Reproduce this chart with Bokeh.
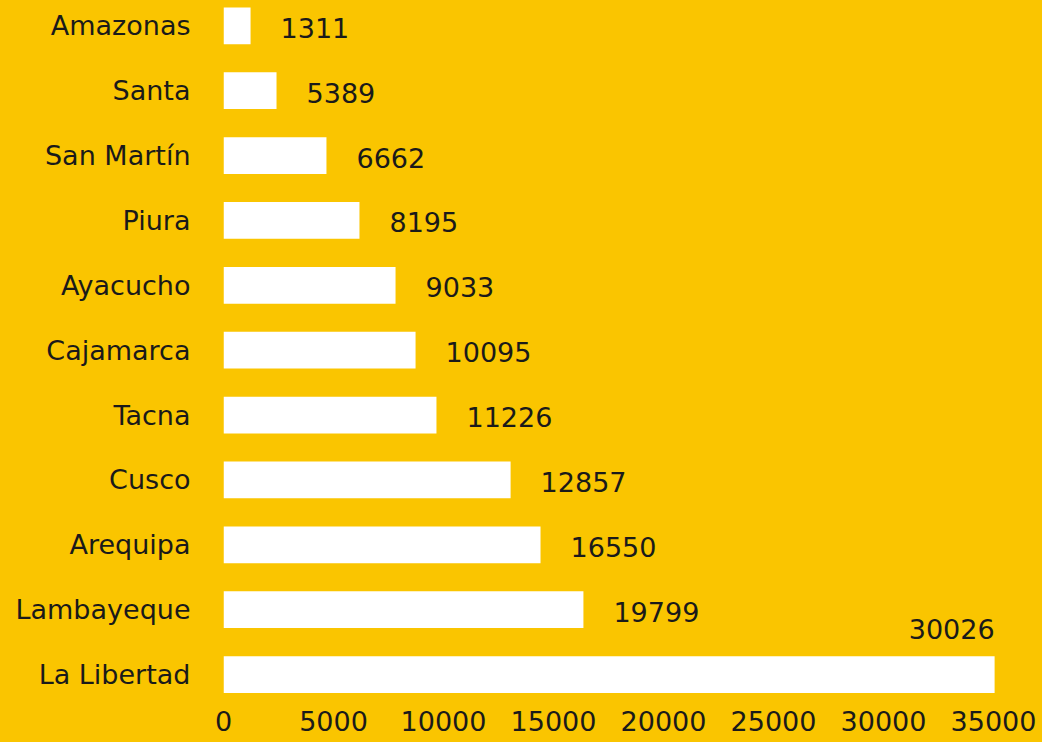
from bokeh.plotting import figure
from bokeh.models import Range1d, FixedTicker, ColumnDataSource, NumeralTickFormatter
from bokeh.core.properties import value
from bokeh.embed import file_html
from bokeh.resources import INLINE

# Data (top to bottom as shown)
regions = ["Amazonas", "Santa", "San Martín", "Piura", "Ayacucho", "Cajamarca",
           "Tacna", "Cusco", "Arequipa", "Lambayeque", "La Libertad"]
# bar lengths as drawn against the axis
bar_lengths = [1230, 2410, 4680, 6180, 7820, 8730, 9680, 13050, 14410, 16360, 35050]
# printed value labels
value_labels = ["1311", "5389", "6662", "8195", "9033", "10095", "11226",
                "12857", "16550", "19799", "30026"]
x_ticks = [0, 5000, 10000, 15000, 20000, 25000, 30000, 35000]

BG = "#FAC500"
INK = "#1A1A1A"
FONT = "DejaVu Sans"
FS = "27px"

n = len(regions)
ypos = [n - 1 - i for i in range(n)]  # Amazonas on top

p = figure(width=1042, height=742, output_backend="svg", toolbar_location=None,
           x_range=Range1d(0, 37227), y_range=Range1d(-0.40, 10.39),
           min_border_left=223, min_border_right=0, min_border_top=0,
           min_border_bottom=42)
p.background_fill_color = BG
p.border_fill_color = BG
p.outline_line_color = None
p.grid.visible = False

src = ColumnDataSource(dict(y=ypos, right=bar_lengths, lab=value_labels, reg=regions))
p.hbar(y="y", left=0, right="right", height=0.565, source=src,
       fill_color="white", line_color=None)

# value labels: all but the longest bar to the right of the bar end
imax = max(range(n), key=lambda i: bar_lengths[i])
others = [i for i in range(n) if i != imax]
src_a = ColumnDataSource(dict(x=[bar_lengths[i] for i in others],
                              y=[ypos[i] for i in others],
                              t=[value_labels[i] for i in others]))
p.text(x="x", y="y", text="t", source=src_a, x_offset=30, y_offset=2,
       text_align="left", text_baseline="middle", text_font=value(FONT),
       text_font_size=FS, text_color=INK)
src_b = ColumnDataSource(dict(x=[bar_lengths[imax]], y=[ypos[imax]],
                              t=[value_labels[imax]]))
p.text(x="x", y="y", text="t", source=src_b, x_offset=0, y_offset=-46,
       text_align="right", text_baseline="middle", text_font=value(FONT),
       text_font_size=FS, text_color=INK)

# x axis
xa = p.xaxis[0]
xa.ticker = FixedTicker(ticks=x_ticks)
xa.formatter = NumeralTickFormatter(format="0")
xa.axis_line_color = None
xa.major_tick_line_color = None
xa.minor_tick_line_color = None
xa.major_tick_out = 0
xa.major_tick_in = 0
xa.major_label_standoff = 10
xa.major_label_text_font = FONT
xa.major_label_text_font_size = FS
xa.major_label_text_color = INK

# y axis with region names
ya = p.yaxis[0]
ya.ticker = FixedTicker(ticks=ypos)
ya.major_label_overrides = {y: r for y, r in zip(ypos, regions)}
ya.axis_line_color = None
ya.major_tick_line_color = None
ya.minor_tick_line_color = None
ya.major_tick_out = 0
ya.major_tick_in = 0
ya.major_label_standoff = 33
ya.major_label_text_font = FONT
ya.major_label_text_font_size = FS
ya.major_label_text_color = INK

html = file_html(p, INLINE)
html = html.replace("</head>", "<style>html,body{background:%s;}</style></head>" % BG, 1)
open("out.html", "w").write(html)
